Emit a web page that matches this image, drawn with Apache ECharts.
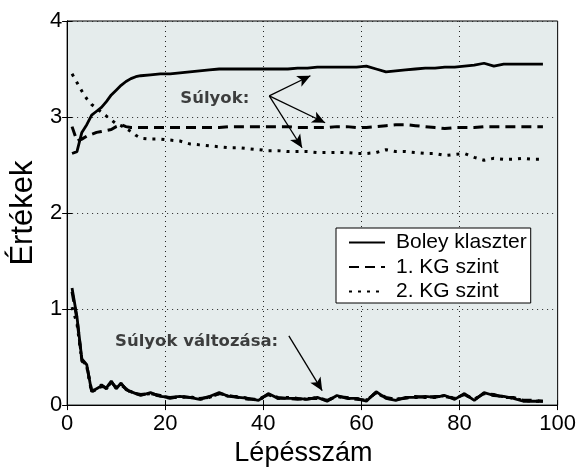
<!DOCTYPE html>
<html><head><meta charset="utf-8">
<script src="https://cdn.jsdelivr.net/npm/echarts@6/dist/echarts.min.js"></script>
<style>html,body{margin:0;padding:0;background:#fff}#c{width:579px;height:472px}</style>
</head><body><div id="c"></div>
<script>
const steps = [1,2,3,4,5,6,7,8,9,10,11,12,13,14,15,17,19,21,23,25,27,29,31,33,35,37,39,41,43,45,47,49,51,53,55,57,59,61,63,65,67,69,71,73,75,77,79,81,83,85,87,89,91,93,95,97];
const boley = [2.62,2.64,2.84,2.92,3.02,3.06,3.10,3.16,3.23,3.28,3.33,3.37,3.40,3.42,3.43,3.44,3.45,3.45,3.46,3.47,3.48,3.49,3.50,3.50,3.50,3.50,3.50,3.50,3.50,3.50,3.51,3.51,3.52,3.52,3.52,3.52,3.52,3.53,3.50,3.47,3.48,3.49,3.50,3.51,3.51,3.52,3.52,3.53,3.54,3.56,3.53,3.55,3.55,3.55,3.55,3.55];
const kg1 = [2.90,2.75,2.77,2.80,2.82,2.84,2.85,2.86,2.87,2.90,2.92,2.90,2.89,2.89,2.89,2.89,2.89,2.89,2.89,2.89,2.89,2.89,2.89,2.90,2.90,2.90,2.90,2.90,2.90,2.90,2.89,2.89,2.89,2.89,2.90,2.90,2.89,2.89,2.90,2.91,2.92,2.92,2.91,2.90,2.89,2.88,2.89,2.89,2.89,2.90,2.90,2.90,2.90,2.90,2.90,2.90];
const kg2 = [3.45,3.36,3.27,3.19,3.13,3.09,3.05,3.01,2.97,2.93,2.91,2.88,2.85,2.81,2.78,2.77,2.77,2.76,2.75,2.72,2.71,2.70,2.69,2.68,2.68,2.67,2.66,2.65,2.65,2.64,2.64,2.64,2.63,2.63,2.63,2.63,2.62,2.62,2.63,2.66,2.64,2.64,2.63,2.62,2.62,2.60,2.61,2.62,2.58,2.55,2.57,2.56,2.56,2.57,2.56,2.56];
const dBoley = [1.22,0.92,0.48,0.42,0.14,0.17,0.20,0.18,0.25,0.17,0.23,0.16,0.14,0.12,0.10,0.13,0.09,0.08,0.09,0.08,0.06,0.09,0.13,0.09,0.08,0.07,0.05,0.12,0.07,0.07,0.07,0.06,0.08,0.04,0.10,0.07,0.07,0.04,0.14,0.07,0.05,0.08,0.08,0.09,0.08,0.10,0.06,0.12,0.05,0.13,0.10,0.09,0.07,0.04,0.04,0.04];
const dKg1 = [1.18,0.90,0.47,0.41,0.15,0.16,0.21,0.17,0.24,0.18,0.22,0.17,0.13,0.12,0.11,0.12,0.10,0.07,0.09,0.08,0.07,0.08,0.12,0.10,0.08,0.06,0.06,0.11,0.08,0.07,0.06,0.07,0.07,0.05,0.09,0.08,0.06,0.05,0.13,0.08,0.06,0.07,0.09,0.08,0.09,0.09,0.07,0.11,0.06,0.12,0.11,0.08,0.08,0.05,0.05,0.04];
const dKg2 = [1.02,0.85,0.46,0.40,0.13,0.18,0.19,0.19,0.23,0.18,0.21,0.17,0.14,0.11,0.11,0.12,0.09,0.08,0.08,0.09,0.06,0.08,0.12,0.09,0.09,0.07,0.05,0.11,0.07,0.08,0.07,0.06,0.08,0.05,0.09,0.07,0.07,0.05,0.13,0.07,0.06,0.08,0.08,0.08,0.08,0.10,0.07,0.11,0.06,0.12,0.10,0.09,0.07,0.05,0.04,0.04];
const seriesNames = ['Boley klaszter','1. KG szint','2. KG szint'];
const xTicks = {min:0, max:100, interval:20};
const yTicks = {min:0, max:4, interval:1};
const xTitle = 'Lépésszám';
const yTitle = 'Értékek';
const noteWeights = {text:'Súlyok:', at:[30.1,3.19]};
const noteChanges = {text:'Súlyok változása:', at:[26.4,0.66]};
const arrowsWeights = [[[41.2,3.22],[49.6,3.43]],[[41.2,3.22],[52.6,2.94]],[[41.2,3.22],[47.9,2.68]]];
const arrowsChanges = [[[45.2,0.72],[52.0,0.15]]];

const pair = v => steps.map((s,i)=>[s,v[i]]);
const FONT = 'Liberation Sans';
const styles = [{type:'solid',width:2.8},{type:[10,6],width:3},{type:[3,6],width:3}];
function lineSeries(name, vals, k){
  return {type:'line', name, data:pair(vals), symbol:'none', showSymbol:false,
    lineStyle:{color:'#000', width:styles[k].width, type:styles[k].type, cap:'butt'},
    itemStyle:{color:'#000'}, animation:false, z:3};
}
function arrowData(list){
  return list.map(a=>[{coord:a[0], symbol:'none'},{coord:a[1], symbol:'arrow'}]);
}
const chart = echarts.init(document.getElementById('c'));
const axisCommon = {axisLine:{show:true,lineStyle:{color:'#000',width:1}}, axisTick:{show:true,inside:true,length:5,lineStyle:{color:'#000'}}};
chart.setOption({
  animation:false,
  grid:{left:60,right:21,top:21,bottom:59,show:true,backgroundColor:'#e5ecec',borderColor:'#000',borderWidth:1},
  xAxis:[{type:'value',min:xTicks.min,max:xTicks.max,interval:xTicks.interval,...axisCommon,
      axisLabel:{color:'#000',fontSize:22,fontFamily:FONT,margin:8},
      splitLine:{show:true,lineStyle:{color:'#222',type:[1,4],width:1}},
      name:xTitle,nameLocation:'middle',nameGap:29,nameTextStyle:{color:'#000',fontSize:27,fontFamily:FONT,padding:[0,18,0,0]}},
    {type:'value',position:'top',min:xTicks.min,max:xTicks.max,interval:xTicks.interval,...axisCommon,axisLabel:{show:false},splitLine:{show:false}}],
  yAxis:[{type:'value',min:yTicks.min,max:yTicks.max,interval:yTicks.interval,...axisCommon,
      axisLabel:{color:'#000',fontSize:22,fontFamily:FONT,margin:5},
      splitLine:{show:true,lineStyle:{color:'#222',type:[1,4],width:1}},
      name:yTitle,nameLocation:'middle',nameGap:23,nameRotate:90,nameTextStyle:{color:'#000',fontSize:31,fontFamily:FONT}},
    {type:'value',position:'right',min:yTicks.min,max:yTicks.max,interval:yTicks.interval,...axisCommon,axisLabel:{show:false},splitLine:{show:false}}],
  legend:{data:seriesNames,orient:'vertical',left:336,top:228,backgroundColor:'#fff',borderColor:'#000',borderWidth:1,borderRadius:0,
    padding:[4,4,1,12],itemWidth:36,itemHeight:14,itemGap:3.5,
    itemStyle:{opacity:0},
    textStyle:{color:'#000',fontSize:21,fontFamily:FONT,lineHeight:21,padding:[0,0,0,6]}},
  series:[
    lineSeries(seriesNames[0], boley, 0),
    lineSeries(seriesNames[1], kg1, 1),
    lineSeries(seriesNames[2], kg2, 2),
    lineSeries(seriesNames[0], dBoley, 0),
    lineSeries(seriesNames[1], dKg1, 1),
    lineSeries(seriesNames[2], dKg2, 2),
    {type:'scatter',name:'notes',silent:true,symbolSize:0,z:5,
      data:[{value:noteWeights.at,label:{formatter:noteWeights.text}},{value:noteChanges.at,label:{formatter:noteChanges.text}}],
      label:{show:true,position:'inside',color:'#111',fontSize:16.5,fontWeight:'bold',fontFamily:'DejaVu Sans'},
      markLine:{silent:true,symbolSize:[9,13],label:{show:false},lineStyle:{color:'#000',width:1.3,type:'solid'},
        data:arrowData(arrowsWeights.concat(arrowsChanges))}}
  ]
});
</script></body></html>
